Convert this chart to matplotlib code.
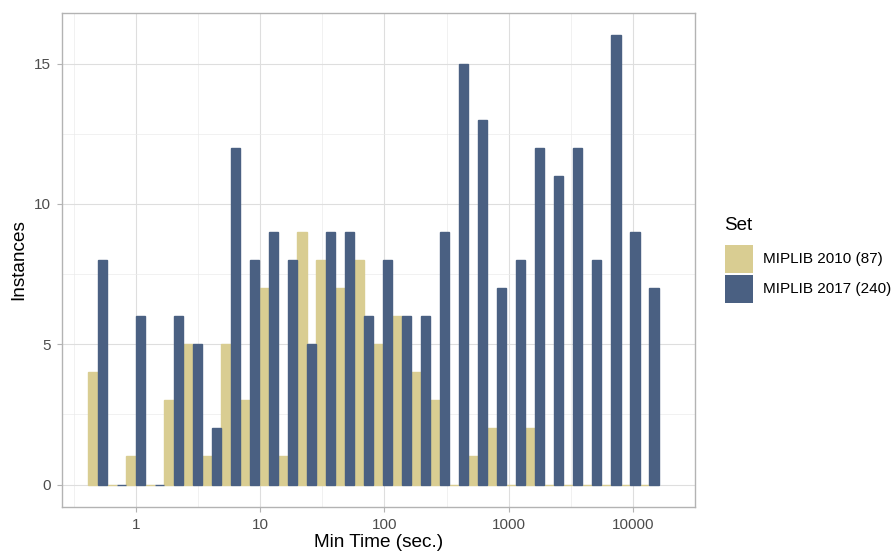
import numpy as np
import matplotlib
matplotlib.use("Agg")
import matplotlib.pyplot as plt
from matplotlib.patches import Rectangle

plt.rcParams['font.family'] = ['Liberation Sans', 'DejaVu Sans']

# Binning (log10 of seconds)
bin_first_center_log = -0.31
bin_width_log = 0.1531
n_bins = 30

series_names = ["MIPLIB 2010 (87)", "MIPLIB 2017 (240)"]
counts_2010 = [4, 0, 1, 0, 3, 5, 1, 5, 3, 7, 1, 9, 8, 7, 8, 5, 6, 4, 3, 0,
               1, 2, 0, 2, 0, 0, 0, 0, 0, 0]
counts_2017 = [8, 0, 6, 0, 6, 5, 2, 12, 8, 9, 8, 5, 9, 9, 6, 8, 6, 6, 9, 15,
               13, 7, 8, 12, 11, 12, 8, 16, 9, 7]
colors = ["#D9CD92", "#4A6082"]

x_ticks = [1, 10, 100, 1000, 10000]
x_tick_labels = ["1", "10", "100", "1000", "10000"]
y_ticks = [0, 5, 10, 15]

W, H = 896, 554
fig = plt.figure(figsize=(W/100, H/100), dpi=100)
ax = fig.add_axes([62/W, 1-507/H, (695-62)/W, (507-13)/H])

centers = bin_first_center_log + bin_width_log*np.arange(n_bins)
left_edges = centers - bin_width_log/2
mids = centers
right_edges = centers + bin_width_log/2

for vals, c, lo, hi in [(counts_2010, colors[0], left_edges, mids),
                        (counts_2017, colors[1], mids, right_edges)]:
    vals = np.asarray(vals, float)
    ax.bar(10**lo, vals, width=10**hi - 10**lo, align='edge', color=c,
           edgecolor=c, linewidth=1.0, zorder=3)

ax.set_xscale('log')
ax.set_xlim(10**(-0.596), 10**(4.437))
ax.set_ylim(-0.8, 16.8)
ax.set_xticks(x_ticks)
ax.set_xticklabels(x_tick_labels)
ax.set_xticks([10**(k+0.5) for k in range(-1, 5)], minor=True)
ax.xaxis.set_minor_formatter(matplotlib.ticker.NullFormatter())
ax.set_yticks(y_ticks)
ax.set_yticks([2.5, 7.5, 12.5], minor=True)

ax.grid(which='major', color='#DEDEDE', linewidth=0.8, zorder=0)
ax.grid(which='minor', color='#EBEBEB', linewidth=0.5, zorder=0)
ax.set_axisbelow(True)
for s in ax.spines.values():
    s.set_color('#B3B3B3')
    s.set_linewidth(1.0)
ax.tick_params(which='major', color='#B3B3B3', length=3.5, width=0.8,
               labelcolor='#4D4D4D', labelsize=11, pad=4.5)
ax.tick_params(which='minor', length=0)

ax.set_xlabel("Min Time (sec.)", fontsize=13.7, color='black', labelpad=1.5)
ax.set_ylabel("Instances", fontsize=13.7, color='black', labelpad=5)

# Legend drawn in figure pixel positions
fig.text(724/W, 1-225/H, "Set", fontsize=13.5, ha='left', va='center')
key_tops = [245, 275]
for c, n, top in zip(colors, series_names, key_tops):
    fig.add_artist(Rectangle((725/W, 1-(top+28)/H), 28/W, 28/H,
                             transform=fig.transFigure, facecolor=c,
                             edgecolor='none'))
    fig.text(763/W, 1-(top+14.5)/H, n, fontsize=11, ha='left', va='center')

fig.savefig("out.png", dpi=100)
